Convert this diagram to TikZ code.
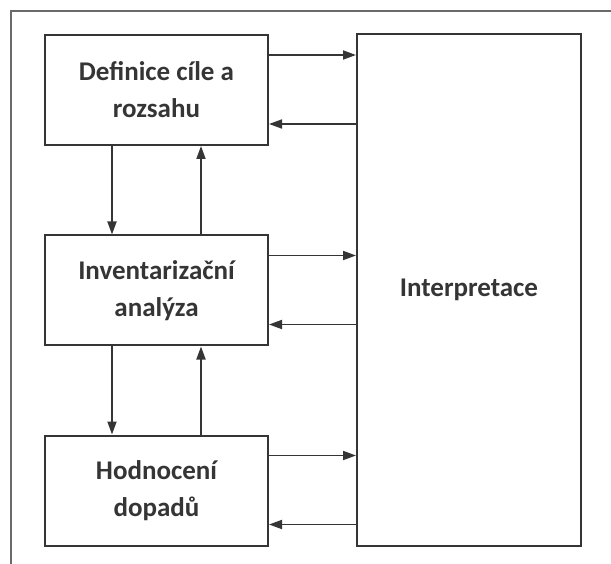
\documentclass[tikz,border=0pt]{standalone}
\usepackage{fontspec}
\setmainfont{Carlito}
\usepackage{xcolor}
\usepackage{tikz}
\usetikzlibrary{positioning,calc,arrows.meta}
\definecolor{inkgray}{HTML}{353535}
\definecolor{framegray}{HTML}{6A6A6A}

\begin{document}
\begin{tikzpicture}[
            x=1pt, y=-1pt,
            stage/.style={rectangle, draw=inkgray, line width=2pt, fill=white,
                minimum width=223pt, minimum height=110pt, align=center,
                text=inkgray, font=\fontsize{27}{37}\selectfont\bfseries},
            arr/.style={-{Triangle[length=13pt,width=9pt]}, draw=inkgray, line width=1.8pt}
        ]
            \useasboundingbox (0,0) rectangle (611,564);
            % Frame
            \draw[framegray, line width=1.3pt] (11,570) -- (11,11) -- (620,11);

            % Phases
            \node[stage] (def) at (156.5,90) {Definice cíle a\\rozsahu};
            \node[stage] (inv) at (156.5,290.5) {Inventarizační\\analýza};
            \node[stage] (hod) at (156.5,490.5) {Hodnocení\\dopadů};

            % Interpretation
            \node[stage, minimum width=224pt, minimum height=512pt] (interp) at (469,290) {Interpretace};

            % Connections between phases
            \draw[arr] ([xshift=-44.5pt]def.south) -- ([xshift=-44.5pt]inv.north);
            \draw[arr] ([xshift=44.5pt]inv.north) -- ([xshift=44.5pt]def.south);
            \draw[arr] ([xshift=-44.5pt]inv.south) -- ([xshift=-44.5pt]hod.north);
            \draw[arr] ([xshift=44.5pt]hod.north) -- ([xshift=44.5pt]inv.south);

            % Connections to and from interpretation
            \foreach \b in {def,inv,hod} {
                \draw[arr] ([yshift=-21pt]\b.north east) -- ([yshift=-21pt]\b.north east -| interp.west);
                \draw[arr] ([yshift=22pt]\b.south east -| interp.west) -- ([yshift=22pt]\b.south east);
            }
        \end{tikzpicture}
\end{document}
